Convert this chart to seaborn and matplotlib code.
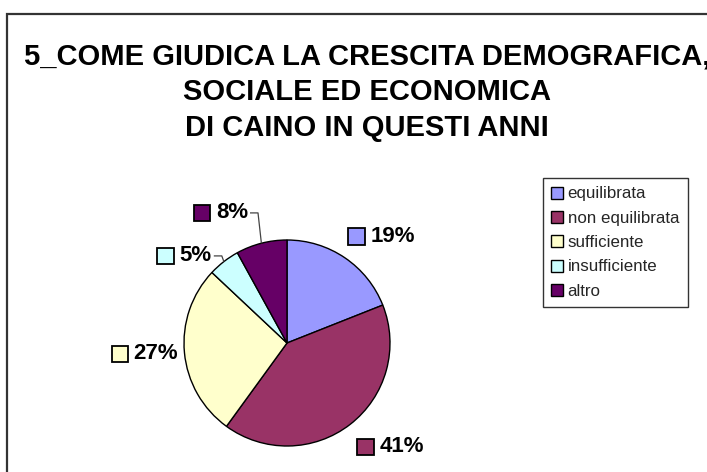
import numpy as np
import matplotlib
matplotlib.use("Agg")
import matplotlib.pyplot as plt
from matplotlib.lines import Line2D
from matplotlib.patches import Rectangle
from matplotlib.offsetbox import AnnotationBbox, DrawingArea, TextArea, HPacker
import seaborn as sns

# Survey answers
categories = ["equilibrata", "non equilibrata", "sufficiente", "insufficiente", "altro"]
values = [19, 41, 27, 5, 8]
value_labels = ["19%", "41%", "27%", "5%", "8%"]
colors = ["#9999FF", "#993366", "#FFFFCC", "#CCFFFF", "#660066"]
title = "5_COME GIUDICA LA CRESCITA DEMOGRAFICA,\nSOCIALE ED ECONOMICA\nDI CAINO IN QUESTI ANNI"

# Label placement (radius in pie radii, angular nudge in degrees)
label_radius = [1.38, 1.42, 1.39, 1.31, 1.42]
label_shift = [-7.1, 6.9, -1.0, 12.0, 12.8]
leader = [False, False, False, True, True]

sns.set_theme(style="white")
plt.rcParams["font.family"] = ["Liberation Sans", "DejaVu Sans"]

W, H = 707, 472
fig = plt.figure(figsize=(W / 100, H / 100), dpi=100)
fig.patch.set_facecolor("white")

# Outer chart frame (runs off the right and bottom edges)
fig.patches.append(Rectangle((7 / W, -0.2), 1.5, 1.2 - 14 / H, transform=fig.transFigure,
                             fill=False, edgecolor="#333333", linewidth=1.6, zorder=0))

fig.text(367 / W, 1 - 92 / H, title, ha="center", va="center", fontsize=21,
         fontweight="bold", linespacing=1.36, color="black")

# Pie axes: centre (287, 343) px, radius 103 px
R = 103
half = 150
cx, cy = 287, 343
ax = fig.add_axes([(cx - half) / W, (H - cy - half) / H, 2 * half / W, 2 * half / H])

wedges, _ = ax.pie(values, colors=colors, startangle=90, counterclock=False, radius=1,
                   wedgeprops=dict(edgecolor="black", linewidth=1.0))
lim = half / R
ax.set_xlim(-lim, lim)
ax.set_ylim(-lim, lim)
ax.set_aspect("equal")
ax.axis("off")

fig.canvas.draw()
renderer = fig.canvas.get_renderer()
px_per_unit = R

boxes = []
for w, lab, col, r, sh, ld in zip(wedges, value_labels, colors, label_radius, label_shift, leader):
    mid = np.deg2rad((w.theta1 + w.theta2) / 2)
    ang = mid + np.deg2rad(sh)
    x, y = r * np.cos(ang), r * np.sin(ang)
    da = DrawingArea(14, 14, 0, 0)
    da.add_artist(Rectangle((1, 1), 12, 12, facecolor=col, edgecolor="black", linewidth=1.3))
    ta = TextArea(lab, textprops=dict(fontsize=16, fontweight="bold", color="black"))
    pack = HPacker(children=[da, ta], align="center", pad=0, sep=3)
    ab = AnnotationBbox(pack, (x, y), xycoords="data", box_alignment=(0.5, 0.5),
                        frameon=False, pad=0, annotation_clip=False)
    ax.add_artist(ab)
    boxes.append((ab, x, y, mid, ld))

fig.canvas.draw()
for ab, x, y, mid, ld in boxes:
    if not ld:
        continue
    ext = ab.get_window_extent(renderer)
    half_w = ext.width / 2 / px_per_unit
    x0 = x + half_w + 2 / px_per_unit
    x1 = x0 + 8 / px_per_unit
    ex, ey = np.cos(mid), np.sin(mid)
    ax.plot([x0, x1, ex], [y, y, ey], color="#444444", linewidth=0.9,
            solid_capstyle="butt", clip_on=False)

handles = [Line2D([0], [0], marker="s", linestyle="none", markersize=8,
                  markerfacecolor=c, markeredgecolor="black", markeredgewidth=1.0)
           for c in colors]
leg = fig.legend(handles, categories, loc="upper left", bbox_to_anchor=(543 / W, 1 - 178 / H),
                 fontsize=12.2, frameon=True, fancybox=False, edgecolor="black",
                 borderpad=0.5, labelspacing=0.55, handlelength=0.7, handletextpad=0.25,
                 borderaxespad=0)
leg.get_frame().set_linewidth(1.0)

fig.savefig("out.png", dpi=100, facecolor="white")
